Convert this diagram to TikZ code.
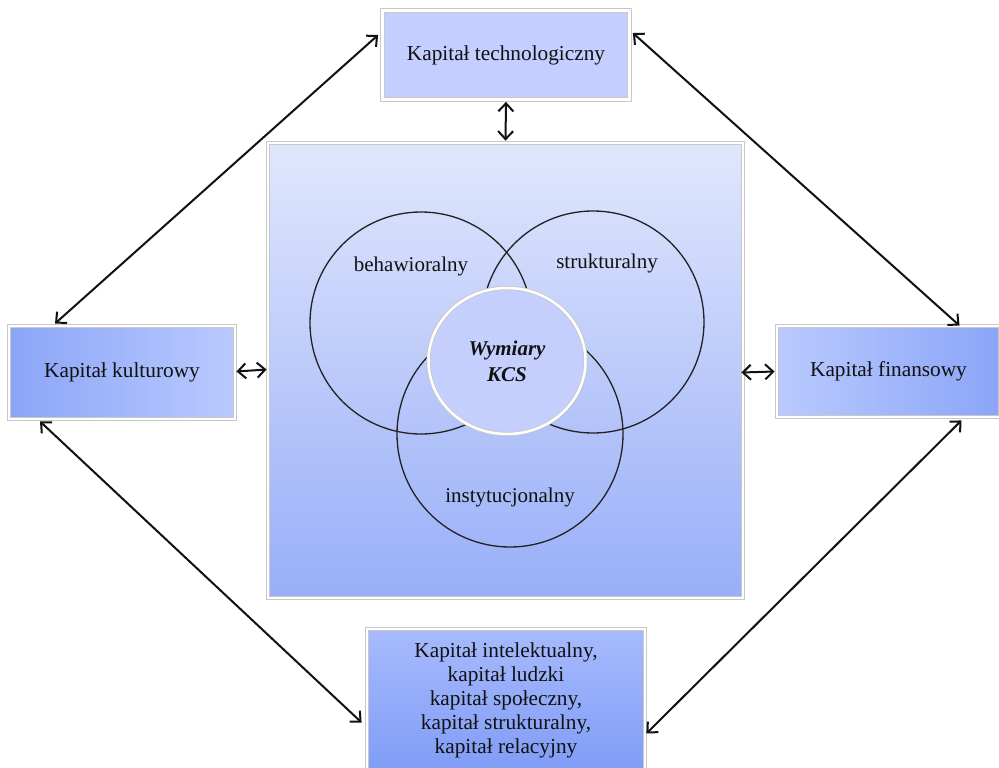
\documentclass[tikz,border=0pt]{standalone}
\usepackage{fontspec}
\setmainfont{Liberation Serif}
\usetikzlibrary{arrows.meta,shadows,shapes.geometric}
\definecolor{txt}{HTML}{111111}
\definecolor{topfill}{HTML}{C3CFFE}
\definecolor{sqtop}{HTML}{E0E7FC}
\definecolor{sqbot}{HTML}{98AEF8}
\definecolor{dark}{HTML}{8BA5F7}
\definecolor{light}{HTML}{BACAFF}
\definecolor{btop}{HTML}{A7BAFD}
\definecolor{bbot}{HTML}{809CF6}
\definecolor{cfill}{HTML}{C4CFFD}
\definecolor{ring}{HTML}{222222}
\definecolor{edge}{HTML}{C8C8C8}
\tikzset{
  capbox/.style={rectangle, draw=edge, line width=0.8pt, double=white, double distance=2.5pt, text=txt, align=center,
    font=\fontsize{21.3}{24}\selectfont,
    drop shadow={opacity=0.3, shadow xshift=1.5pt, shadow yshift=-1.5pt}},
  venn/.style={circle, draw=ring, line width=1.3pt, inner sep=0pt},
  lbl/.style={text=txt, font=\fontsize{21}{24}\selectfont},
  link/.style={line width=2pt, draw=txt, {Straight Barb[length=8pt,width=15pt]}-{Straight Barb[length=8pt,width=15pt]}}
}
\begin{document}
\begin{tikzpicture}[x=1pt,y=-1pt]
\useasboundingbox[fill=white] (0,0) rectangle (999,768);
% central square
\node[capbox, minimum width=475pt, minimum height=455pt, top color=sqtop, bottom color=sqbot] (sq) at (505.5,370.5) {};
% outer boxes
\node[capbox, minimum width=247pt, minimum height=89pt, fill=topfill] (tech) at (506,55) {Kapitał technologiczny};
\node[capbox, minimum width=226pt, minimum height=93pt, left color=dark, right color=light] (kult) at (122,372.5) {Kapitał kulturowy};
\node[capbox, minimum width=223pt, minimum height=91pt, left color=light, right color=dark] (fin) at (888.5,371.5) {Kapitał finansowy};
\node[capbox, minimum width=278pt, minimum height=143pt, top color=btop, bottom color=bbot] (intel) at (506,700.5) {Kapitał intelektualny,\\kapitał ludzki\\kapitał społeczny,\\kapitał strukturalny,\\kapitał relacyjny};
% Venn circles
\node[venn, minimum size=222pt] (cb) at (421,323) {};
\node[venn, minimum size=222pt] (cs) at (593,322) {};
\node[venn, minimum size=226pt] (ci) at (510,434) {};
\node[ellipse, draw=edge, line width=0.8pt, double=white, double distance=2.5pt, fill=cfill, minimum width=157pt, minimum height=146pt,
  drop shadow={opacity=0.3, shadow xshift=1.5pt, shadow yshift=-1.5pt},
  text=txt, align=center, font=\fontsize{21}{26}\selectfont\bfseries\itshape] (core) at (507,361) {Wymiary\\KCS};
\node[lbl] (lb) at (411,266) {behawioralny};
\node[lbl] (ls) at (607,263) {strukturalny};
\node[lbl] (li) at (510,497) {instytucjonalny};
% connectors
\draw[link] ([yshift=-2pt]tech.south) -- ([yshift=2pt]sq.north);
\draw[link] ([xshift=1pt,yshift=1pt]kult.east) -- ([xshift=-1pt,yshift=1pt]sq.west);
\draw[link] ([xshift=-2pt,yshift=-2pt]sq.east) -- ([xshift=-2pt,yshift=0pt]fin.west);
\draw[link] ([xshift=-4pt,yshift=20pt]tech.west) -- ([xshift=-67pt,yshift=2pt]kult.north);
\draw[link] ([xshift=3pt,yshift=22pt]tech.east) -- ([xshift=71pt,yshift=0pt]fin.north);
\draw[link] ([xshift=-82pt,yshift=-2pt]kult.south) -- ([xshift=-5pt,yshift=-22pt]intel.west);
\draw[link] ([xshift=73pt,yshift=-3pt]fin.south) -- ([xshift=1pt,yshift=-33pt]intel.east);
\end{tikzpicture}
\end{document}
